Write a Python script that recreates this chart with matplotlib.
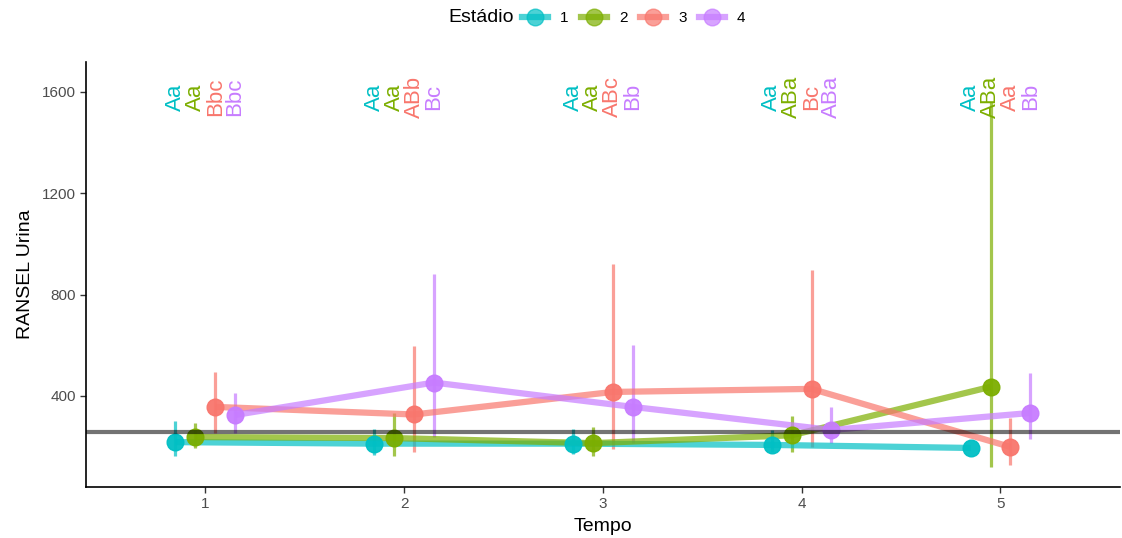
import numpy as np
import matplotlib.pyplot as plt
from matplotlib.lines import Line2D

plt.rcParams['font.family'] = ['Liberation Sans', 'DejaVu Sans']

tempo = [1, 2, 3, 4, 5]
estadios = ['1', '2', '3', '4']
cores = ['#00BFC4', '#7CAE00', '#F8766D', '#C77CFF']

media = {
    '1': [218, 212, 212, 207, 195],
    '2': [238, 234, 214, 245, 436],
    '3': [357, 327, 416, 428, 199],
    '4': [325, 453, 357, 266, 333],
}
inf = {
    '1': [163, 167, 171, 179, np.nan],
    '2': [195, 163, 163, 179, 120],
    '3': [254, 179, 191, 199, 128],
    '4': [254, 238, 214, 214, 230],
}
sup = {
    '1': [301, 268, 270, 266, np.nan],
    '2': [293, 331, 278, 321, 1560],
    '3': [495, 597, 921, 897, 313],
    '4': [412, 882, 601, 357, 491],
}
letras = {
    '1': ['Aa', 'Aa', 'Aa', 'Aa', 'Aa'],
    '2': ['Aa', 'Aa', 'Aa', 'ABa', 'ABa'],
    '3': ['Bbc', 'ABb', 'ABc', 'Bc', 'Aa'],
    '4': ['Bbc', 'Bc', 'Bb', 'ABa', 'Bb'],
}
referencia = 258

fig = plt.figure(figsize=(11.22, 5.38), dpi=100)
ax = fig.add_axes([0.0766, 0.0948, 0.9214, 0.7902])

desloc = [-0.15, -0.05, 0.05, 0.15]
for est, cor, d in zip(estadios, cores, desloc):
    x = np.array(tempo) + d
    y = np.array(media[est])
    lo = np.array(inf[est])
    hi = np.array(sup[est])
    ax.vlines(x, lo, hi, color=cor, lw=2.3, alpha=0.7, zorder=2)
    ax.plot(x, y, color=cor, lw=4.5, alpha=0.7, zorder=3, solid_capstyle='butt')
    ax.plot(x, y, 'o', color=cor, ms=12, alpha=0.95, zorder=4)
    for xi, txt in zip(x, letras[est]):
        ax.text(xi, 1580, txt, rotation=90, ha='center', va='center',
                color=cor, fontsize=16, zorder=5)

ax.axhline(referencia, color='black', lw=3, alpha=0.55, zorder=6)

ax.set_xlim(0.4, 5.6)
ax.set_ylim(41, 1718)
ax.set_xticks(tempo)
ax.set_yticks([400, 800, 1200, 1600])
ax.tick_params(colors='#333333', labelsize=11, length=4, width=1, pad=3)
for lab in ax.get_xticklabels() + ax.get_yticklabels():
    lab.set_color('#4D4D4D')
for s in ['top', 'right']:
    ax.spines[s].set_visible(False)
for s in ['left', 'bottom']:
    ax.spines[s].set_linewidth(1.2)
ax.set_xlabel('Tempo', fontsize=14, labelpad=5)
ax.set_ylabel('RANSEL Urina', fontsize=14, labelpad=6)

handles = [Line2D([0], [0], color=c, lw=4.5, alpha=0.7, marker='o', ms=12,
                  markerfacecolor=c, markeredgecolor=c) for c in cores]
fig.text(448 / 1122, 1 - 18 / 538, 'Estádio', fontsize=14, va='center', ha='left')
fig.legend(handles, estadios, loc='center left', bbox_to_anchor=(522 / 1122, 1 - 18 / 538),
           ncol=4, frameon=False, fontsize=11, handlelength=1.7, handletextpad=0.8,
           columnspacing=0.8, borderpad=0, borderaxespad=0)

fig.savefig('out.png', dpi=100)
